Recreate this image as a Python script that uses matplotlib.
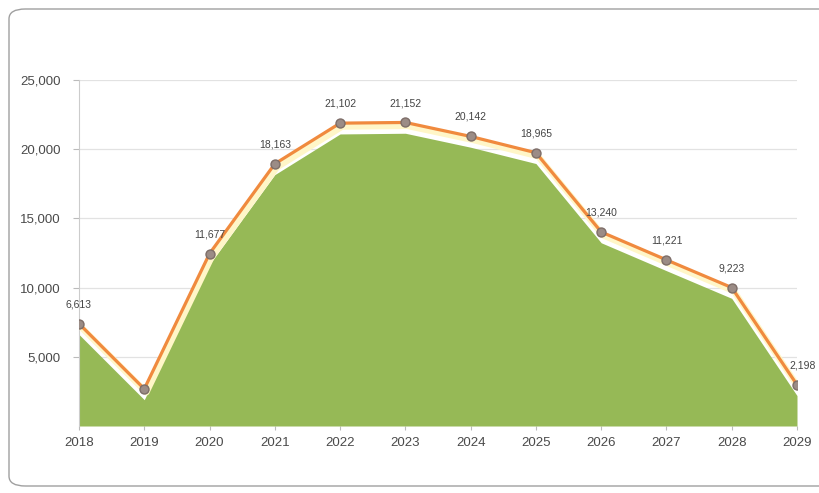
import matplotlib.pyplot as plt
import matplotlib.patheffects as pe
from matplotlib.patches import FancyBboxPatch
from matplotlib import font_manager
import numpy as np

years = ["2018", "2019", "2020", "2021", "2022", "2023",
         "2024", "2025", "2026", "2027", "2028", "2029"]
values = [6613, 1900, 11677, 18163, 21102, 21152,
          20142, 18965, 13240, 11221, 9223, 2198]
point_labels = ["6,613", "", "11,677", "18,163", "21,102", "21,152",
                "20,142", "18,965", "13,240", "11,221", "9,223", "2,198"]
y_ticks = [5000, 10000, 15000, 20000, 25000]

LINE_LIFT = 780  # line with markers sits a little above the filled area

installed = {f.name for f in font_manager.fontManager.ttflist}
narrow = "Liberation Sans Narrow" if "Liberation Sans Narrow" in installed else "Liberation Sans"
plt.rcParams["font.family"] = [narrow, "DejaVu Sans"]

fig = plt.figure(figsize=(8.19, 4.93), dpi=100)
frame = FancyBboxPatch((9 / 819, 7 / 493), 830 / 819, 477 / 493,
                       boxstyle="round,pad=0,rounding_size=0.02",
                       transform=fig.transFigure, facecolor="none",
                       edgecolor="#a0a0a0", linewidth=1.0, clip_on=False,
                       zorder=-1)
fig.patches.append(frame)

ax = fig.add_axes([79 / 819, 1 - 426 / 493, 718 / 819, 346 / 493])
x = np.arange(len(years))
vals = np.array(values, dtype=float)

ax.fill_between(x, 0, vals, color="#96b956", linewidth=0, zorder=2)
ax.plot(x, vals + LINE_LIFT, color="#f08a3e", linewidth=2.3, zorder=3,
        solid_joinstyle="round",
        path_effects=[pe.SimpleLineShadow(offset=(1.5, -2.5), shadow_color="#fff6c8",
                                          alpha=1, rho=1, linewidth=4.5),
                      pe.Normal()])
ax.scatter(x, vals + LINE_LIFT, s=42, color="#9b8c86", edgecolor="#7d6d68",
           linewidth=1, zorder=4)

for i, lab in enumerate(point_labels):
    if not lab:
        continue
    dx = 4 if i == len(years) - 1 else 0
    ax.annotate(lab, (x[i], vals[i] + LINE_LIFT), xytext=(dx, 14),
                textcoords="offset points", ha="center", va="center",
                fontsize=7.5, color="#444444", zorder=5, annotation_clip=False)

ax.set_xlim(0, len(years) - 1)
ax.set_ylim(0, 25000)
ax.set_xticks(x)
ax.set_xticklabels(years)
ax.set_yticks(y_ticks)
ax.set_yticklabels([f"{v:,}" for v in y_ticks])
ax.tick_params(axis="x", length=3, color="#bbbbbb", labelsize=9.5,
               labelcolor="#4a4a4a", pad=5)
ax.tick_params(axis="y", length=4, color="#bbbbbb", labelsize=9.5,
               labelcolor="#4a4a4a", pad=9)
ax.grid(axis="y", color="#e2e2e2", linewidth=0.9, zorder=0)
ax.set_axisbelow(True)
for side in ["top", "right", "bottom"]:
    ax.spines[side].set_visible(False)
ax.spines["left"].set_color("#cccccc")
ax.set_facecolor("none")

fig.savefig("out.png", dpi=100)
